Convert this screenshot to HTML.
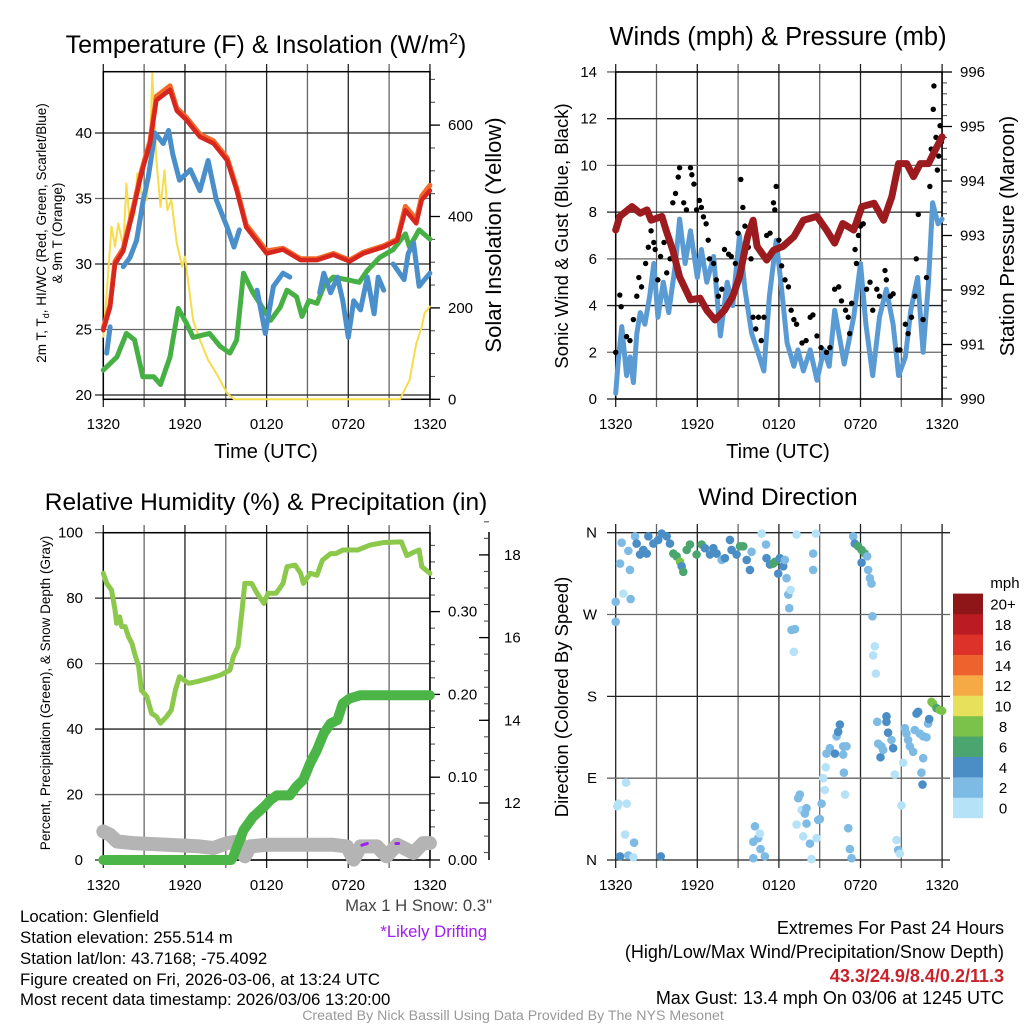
<!DOCTYPE html>
<html><head><meta charset="utf-8"><style>
html,body{margin:0;padding:0;background:#fff;}
svg{display:block;font-family:"Liberation Sans",Arial,sans-serif;}
</style></head><body>
<svg id="fig" xmlns="http://www.w3.org/2000/svg" width="1024" height="1024" viewBox="0 0 1024 1024">
<rect x="0" y="0" width="1024" height="1024" fill="#fff"/>
<g id="layer"></g>
<!-- titles -->
<text x="266" y="53" font-size="25" text-anchor="middle">Temperature (F) &amp; Insolation (W/m<tspan font-size="16" dy="-9">2</tspan><tspan dy="9">)</tspan></text>
<text x="778" y="45" font-size="25.5" text-anchor="middle">Winds (mph) &amp; Pressure (mb)</text>
<text x="266" y="510" font-size="24.5" text-anchor="middle">Relative Humidity (%) &amp; Precipitation (in)</text>
<text x="778" y="505" font-size="24.5" text-anchor="middle">Wind Direction</text>
<!-- axis titles -->
<text x="266" y="458" font-size="20" text-anchor="middle">Time (UTC)</text>
<text x="778" y="458" font-size="20" text-anchor="middle">Time (UTC)</text>
<text transform="translate(46,233) rotate(-90)" font-size="13.5" text-anchor="middle">2m T, T<tspan font-size="9" dy="3">d</tspan><tspan dy="-3">, HI/WC (Red, Green, Scarlet/Blue)</tspan></text>
<text transform="translate(62,233) rotate(-90)" font-size="13.5" text-anchor="middle">&amp; 9m T (Orange)</text>
<text transform="translate(501,235) rotate(-90)" font-size="22" text-anchor="middle">Solar Insolation (Yellow)</text>
<text transform="translate(568,236) rotate(-90)" font-size="18.5" text-anchor="middle">Sonic Wind &amp; Gust (Blue, Black)</text>
<text transform="translate(1014,236) rotate(-90)" font-size="20.5" text-anchor="middle">Station Pressure (Maroon)</text>
<text transform="translate(50,693) rotate(-90)" font-size="13.5" text-anchor="middle">Percent, Precipitation (Green), &amp; Snow Depth (Gray)</text>
<text transform="translate(568,697) rotate(-90)" font-size="18.5" text-anchor="middle">Direction (Colored By Speed)</text>
<!-- notes -->
<text x="492" y="911" font-size="16.7" fill="#444" text-anchor="end">Max 1 H Snow: 0.3"</text>
<text x="487" y="937" font-size="16.7" fill="#a020f0" text-anchor="end">*Likely Drifting</text>
<g font-size="16.8" fill="#000">
<text x="20" y="922">Location: Glenfield</text>
<text x="20" y="943">Station elevation: 255.514 m</text>
<text x="20" y="964">Station lat/lon: 43.7168; -75.4092</text>
<text x="20" y="985">Figure created on Fri, 2026-03-06, at 13:24 UTC</text>
<text x="20" y="1005">Most recent data timestamp: 2026/03/06 13:20:00</text>
</g>
<g font-size="18" text-anchor="end">
<text x="1004" y="934">Extremes For Past 24 Hours</text>
<text x="1004" y="958">(High/Low/Max Wind/Precipitation/Snow Depth)</text>
<text x="1004" y="982" fill="#c8232c" font-weight="bold">43.3/24.9/8.4/0.2/11.3</text>
<text x="1004" y="1004">Max Gust: 13.4 mph On 03/06 at 1245 UTC</text>
</g>
<text x="513" y="1020" font-size="14.2" fill="#999" text-anchor="middle">Created By Nick Bassill Using Data Provided By The NYS Mesonet</text>
<text x="1005" y="588" font-size="15" text-anchor="middle">mph</text>
</svg>
<script>
// ---------- DATA ----------
const timeTickLabels = ["1320","1920","0120","0720","1320"];
// Panel 1
const tempHours = [0,0.5,0.86,1.47,2.2,2.8,3.43,3.9,4.9,5.4,6.1,7.1,8.1,9.1,9.8,10.5,12.0,13.2,14.5,15.7,16.9,18.1,19.1,20.6,21.6,22.2,23.0,23.4,24];
const tempRed = [24.95,26.7,30.0,31.0,34.1,36.9,39.2,42.5,43.3,41.7,41.0,39.7,39.2,37.9,35.6,32.8,30.8,31.1,30.3,30.3,30.7,30.2,30.8,31.3,31.8,34.1,33.1,34.9,35.6];
const temp9m = [25.1,26.9,30.2,31.2,34.3,37.1,39.4,42.8,43.6,41.9,41.2,39.9,39.4,38.1,35.8,33.0,31.0,31.2,30.4,30.4,30.8,30.3,30.9,31.4,31.9,34.4,33.4,35.2,36.0];
const chillHours = [0.25,0.5,null,1.47,1.96,2.45,2.94,3.3,3.8,4.4,4.8,5.1,5.6,6.4,7.1,7.7,8.3,9.1,9.6,10.0,null,11.3,11.9,12.5,13.2,13.7,null,15.9,16.2,16.7,17.2,17.6,18.0,18.4,18.9,19.4,19.9,20.2,20.6,null,21.3,22.1,22.4,22.8,23.2,23.6,24];
const chillVals = [23.2,25.2,null,29.8,30.5,31.8,34.9,36.6,40.0,39.2,40.2,38.4,36.4,37.2,35.6,37.9,34.9,32.8,31.3,32.6,null,28.0,24.7,28.3,29.3,29.0,null,27.8,29.3,27.8,29.0,27.2,24.4,27.2,26.5,29.0,26.2,29.0,28.0,null,30.0,28.8,30.8,31.6,28.3,28.8,29.3];
const dewHours = [0,1.0,1.7,2.3,2.9,3.7,4.2,4.9,5.5,6.1,6.6,7.8,8.6,9.3,9.8,10.3,11.0,11.8,12.3,13.0,13.5,14.2,14.6,15.1,15.7,16.2,16.9,17.9,18.8,19.4,20.3,21.3,22.2,22.5,23.2,24];
const dewVals = [21.9,22.9,24.7,24.2,21.4,21.4,20.8,22.9,26.6,25.5,24.4,24.7,23.7,23.2,24.2,29.3,27.8,26.5,25.7,26.7,28.0,27.5,26.0,27.2,27.0,28.3,29.0,28.8,28.6,29.5,30.5,31.1,32.3,31.3,32.6,31.9];
const solarHours = [0,0.25,0.6,0.86,1.1,1.47,1.7,1.96,2.3,2.5,2.8,3.2,3.4,3.6,3.9,4.2,4.5,4.7,5.0,5.4,5.8,6.0,6.6,7.1,7.7,8.3,9.1,9.6,21.8,22.5,23.0,23.4,23.6,24];
const solarVals = [137,232,378,334,385,334,472,378,407,494,450,436,523,713,523,421,501,414,436,341,290,312,173,130,86,57,13,0,0,42,122,159,188,203];
// Panel 2
const presHours = [0,0.3,1.2,1.8,2.3,2.6,3.4,3.7,4.2,4.7,5.5,6.2,6.7,7.3,8.0,8.6,9.1,9.7,10.1,10.4,11.1,11.6,12.3,13.1,13.8,14.8,15.5,16.1,16.7,17.5,18.1,19.0,19.7,20.3,20.8,21.4,21.9,22.4,23.0,23.5,24];
const presVals = [993.10,993.35,993.53,993.41,993.47,993.28,993.35,993.10,992.73,992.24,991.82,991.85,991.63,991.45,991.63,991.88,992.24,992.98,993.28,992.80,992.55,992.73,992.80,992.98,993.28,993.35,993.10,992.86,993.22,993.10,993.53,993.59,993.28,993.71,994.32,994.32,994.08,994.32,994.32,994.57,994.81];
const windHours = [0,0.2,0.45,0.8,1.05,1.3,1.55,1.8,2.15,2.5,2.8,3.1,3.5,3.9,4.4,4.7,5.1,5.5,6.0,6.3,6.7,7.2,7.7,8.2,8.6,9.1,9.5,10.0,10.4,10.9,11.3,11.8,12.2,12.6,13.1,13.4,13.8,14.3,14.8,15.3,15.7,16.1,16.5,16.8,17.5,18.0,18.4,18.9,19.4,19.9,20.4,20.8,21.3,21.7,22.2,22.6,23.0,23.3,23.7,24];
const windVals = [0.25,1.7,3.1,1.0,1.8,0.7,2.8,3.7,3.2,4.4,5.8,3.5,5.0,3.7,5.8,7.7,5.8,7.2,5.2,6.4,5.0,6.1,2.7,5.0,4.0,7.0,4.7,2.8,2.1,1.2,4.4,6.8,4.7,2.4,1.4,2.1,1.2,2.1,0.8,2.1,1.4,3.8,2.5,1.5,3.5,5.8,3.2,1.0,3.5,4.7,3.2,1.0,1.8,3.8,5.2,2.0,5.0,8.4,7.5,7.7];
const gustHours = [0,0.3,0.4,0.8,1.05,1.3,1.55,1.7,1.9,2.2,2.4,2.6,2.8,2.9,3.1,3.3,3.55,3.75,4.0,4.2,4.4,4.6,4.7,5.0,5.2,5.5,5.6,5.75,5.95,6.15,6.3,6.45,6.65,6.8,6.9,7.2,7.4,7.55,7.8,8.0,8.3,8.5,8.8,9.0,9.2,9.35,9.5,9.75,9.95,10.1,10.3,10.5,10.7,10.9,11.1,11.35,11.6,11.7,11.8,12.0,12.2,12.45,12.7,12.9,13.1,13.3,13.7,14.0,14.3,14.5,14.8,15.1,15.5,15.75,16.1,16.4,16.6,16.9,17.1,17.2,17.35,17.6,17.7,17.85,18.0,18.2,18.45,18.7,18.9,19.2,19.4,19.8,19.9,20.2,20.4,20.7,20.9,21.3,21.5,21.75,22.0,22.1,22.25,22.6,22.85,23.1,23.2,23.35,23.4,23.55,23.65,23.75,23.85,23.95];
const gustVals = [2.0,4.45,3.95,2.67,2.5,3.4,4.4,5.2,4.8,5.8,6.5,7.2,6.7,6.4,5.1,6.1,6.7,5.4,6.0,8.4,8.8,9.5,9.9,8.4,8.1,9.9,9.6,9.2,8.1,8.5,8.2,7.8,7.5,6.8,6.0,5.8,5.1,4.4,4.7,6.4,6.2,6.1,5.8,7.1,9.4,8.2,7.4,6.5,6.0,3.5,3.0,3.5,2.5,3.5,7.0,7.1,8.4,8.1,9.1,6.8,5.7,5.1,4.8,3.8,3.4,3.2,2.4,2.5,3.5,3.6,2.7,2.2,2.0,2.2,4.7,4.8,4.2,3.8,3.5,2.8,4.1,6.4,5.8,7.0,7.4,7.5,4.7,5.0,3.8,4.7,4.4,5.5,5.1,4.4,4.5,2.1,2.1,3.2,2.8,3.5,4.4,6.0,7.9,3.4,5.2,9.1,10.7,12.4,13.4,11.2,9.8,10.4,11.7,11.0];
// Panel 3
const rhHours = [0,0.25,0.6,0.86,0.98,1.2,1.35,1.6,1.85,2.1,2.3,2.6,2.8,3.2,3.55,3.9,4.2,4.65,5.0,5.3,5.6,6.25,6.9,7.8,8.6,9.3,9.55,9.9,10.2,10.4,10.9,11.3,11.8,12.1,12.7,13.2,13.5,14.1,14.5,14.7,15.2,15.7,16.1,16.7,17.1,17.6,18.7,19.6,20.6,21.9,22.3,22.8,23.2,23.4,24];
const rhVals = [87.6,84.5,82.5,76.4,72.3,74.3,71.3,71.3,68.2,66.2,63.1,59.1,51.9,49.9,44.8,43.8,41.8,43.8,45.8,51.9,56.0,54.0,54.5,55.5,56.5,58.0,62.1,65.2,76.4,84.5,84.5,81.5,78.4,81.5,81.5,84.5,89.6,90.1,87.6,84.5,87.6,87.0,91.6,93.6,93.6,94.7,94.7,96.2,97.0,97.2,93.0,94.0,94.7,89.6,87.6];
const precipHours = [0,9.4,9.55,10.3,11.0,11.8,12.25,12.75,13.7,14.2,14.7,15.2,15.7,16.2,16.7,17.2,17.6,18.1,18.9,24];
const precipVals = [0,0,0.004,0.036,0.052,0.064,0.072,0.078,0.078,0.089,0.097,0.117,0.133,0.153,0.165,0.169,0.189,0.195,0.199,0.199];
const snowHours = [0,0.5,1.0,2.2,7.1,8.1,9.1,10.0,10.4,10.8,12,16.9,17.9,18.4,18.9,20.1,20.8,21.6,22.8,23.5,24];
const snowVals = [11.31,11.23,11.07,11.03,10.95,10.91,11.03,11.07,10.71,10.95,10.99,10.99,10.95,10.63,10.95,10.95,10.71,10.99,10.79,11.03,11.03];
const driftHours = [[19.0,19.4],[21.5,21.7]];
const driftVals = [[10.98,11.02],[11.02,11.02]];
// Panel 4
const dirHours = [0.44,0.32,1.05,0.56,1.1,0,0,0.93,1.42,1.54,1.79,2.03,2.28,2.4,2.77,3.13,3.38,3.75,3.99,4.24,4.48,4.73,4.85,4.97,5.22,5.46,5.95,6.32,6.56,6.93,7.18,7.42,7.79,8.03,8.4,8.52,8.89,9.14,9.38,9.63,9.87,9.99,10.73,11.05,11.09,11.34,11.58,11.71,11.95,12.07,12.32,12.44,12.56,12.69,12.86,12.76,12.93,13.18,13.1,13.3,14.52,14.52,14.72,17.46,17.58,17.83,18.08,18.32,18.08,18.49,18.56,18.69,18.81,18.88,19.05,18.93,19.13,
0.2,0.12,0.76,0.81,0.69,1.35,0.32,0.93,1.3,3.31,10.24,10.48,10.12,10.6,10.65,10.97,10.12,13.42,13.54,13.67,14.03,13.91,13.3,13.79,14.28,14.03,14.4,14.77,14.89,15.01,15.14,15.26,15.38,15.45,15.5,15.75,16.12,16.24,16.36,16.48,16.73,16.97,16.73,16.78,16.87,17.1,17.22,17.34,
19.23,19.3,19.54,19.47,19.67,19.91,19.91,20.03,20.28,20.4,20.52,21.01,20.65,20.77,20.89,21.14,21.26,21.38,21.5,21.63,21.87,21.99,22.12,22.24,22.36,22.61,22.85,22.97,23.05,22.61,22.48,22.56,23.22,23.34,23.59,23.83,24];
const dirVals = [349,326,319,293,287,284,262,340,356,348,336,341,337,356,348,352,359,356,348,337,334,328,323,317,341,347,336,347,343,336,343,337,330,332,352,341,336,345,345,330,319,339,359,347,332,325,326,328,315,332,323,330,310,292,297,277,253,254,229,358,337,319,359,356,348,345,341,337,327,334,319,310,304,268,235,225,205,
62,59,85,62,28,19,4,5,3,4,37,24,20,29,12,4,2,68,72,55,57,51,39,26,18,40,1,24,44,45,62,90,77,102,117,123,117,136,141,149,125,125,116,96,72,35,12,2,
152,128,125,113,121,158,152,140,132,123,94,60,22,11,7,107,145,139,132,125,119,143,161,163,139,136,135,150,155,112,96,83,174,172,167,165,164];
const dirSpeeds = [2.5,2.5,2.5,0.8,2.5,2.5,2.5,2.5,2.5,4.3,4.3,4.3,4.3,4.3,4.3,4.3,4.3,4.3,4.3,6.2,6.2,8.1,4.3,6.2,6.2,6.2,6.2,6.2,4.3,4.3,4.3,4.3,2.5,4.3,4.3,4.3,4.3,6.2,6.2,4.3,4.3,2.5,0.8,2.5,4.3,4.3,6.2,6.2,4.3,4.3,4.3,2.5,2.5,2.5,0.8,2.5,2.5,2.5,0.8,0.8,2.5,2.5,0.8,2.5,4.3,6.2,6.2,6.2,4.3,2.5,2.5,2.5,2.5,2.5,0.8,0.8,0.8,
0.8,0.8,0.8,0.8,0.8,2.5,4.3,2.5,0.8,4.3,2.5,2.5,2.5,0.8,2.5,2.5,2.5,2.5,2.5,0.8,2.5,2.5,0.8,0.8,2.5,2.5,0.8,0.8,2.5,2.5,2.5,0.8,0.8,0.8,2.5,2.5,4.3,2.5,4.3,4.3,2.5,2.5,2.5,2.5,0.8,2.5,2.5,2.5,
2.5,2.5,2.5,4.3,2.5,4.3,4.3,4.3,2.5,4.3,0.8,0.8,0.8,2.5,0.8,0.8,2.5,2.5,2.5,2.5,2.5,2.5,4.3,4.3,2.5,2.5,2.5,2.5,4.3,2.5,2.5,4.3,8.1,8.1,6.2,8.1,8.1];
const cbLabels = ["0","2","4","6","8","10","12","14","16","18","20+"];
const cbColors = ["#b5e2f7","#7dbae4","#4a8ec5","#4aa56e","#7ac24a","#e6e05a","#f6aa46","#ee622e","#dc3229","#bb1c24","#8e1619"];

// ---------- HELPERS ----------
const NS="http://www.w3.org/2000/svg";
const layer=document.getElementById('layer');
function mk(tag,attrs,parent){const e=document.createElementNS(NS,tag);for(const k in attrs)e.setAttribute(k,attrs[k]);(parent||layer).appendChild(e);return e;}
function pathFrom(xs,ys,fx,fy){let d="",pen=false;for(let i=0;i<xs.length;i++){if(xs[i]===null||ys[i]===null){pen=false;continue;}d+=(pen?"L":"M")+fx(xs[i]).toFixed(1)+","+fy(ys[i]).toFixed(1);pen=true;}return d;}

// scales
const xL=h=>103.3+h*13.61, xR=h=>615.7+h*13.6;
const yT=t=>395-(t-20)*13.1, yS=w=>399.3-w*0.457;
const yW=m=>399-m*23.36, yP=p=>399-(p-990)*54.5;
const yRH=r=>860-r*3.273, yPr=i=>860-i*828, ySn=s=>803-(s-12)*41.35;
const yD=d=>860-d*(327.3/360);

function timeGrid(xf,top,bot,labelY,name){
  for(let h=0;h<=24;h+=3){
    const ln=mk('line',{x1:xf(h),x2:xf(h),y1:top-8,y2:bot+8,stroke:(h%6==0)?'#222':'#666','stroke-width':1.3});
    
    
  }
  for(let i=0;i<timeTickLabels.length;i++){
    const t=mk('text',{x:xf(i*6),y:labelY,'font-size':15,'text-anchor':'middle'});
    t.textContent=timeTickLabels[i];
    
    
  }
}
function hGrid(vals,yf,x1,x2,labels,lx,name,anchor){
  for(let i=0;i<vals.length;i++){
    const ln=mk('line',{x1:x1,x2:x2,y1:yf(vals[i]),y2:yf(vals[i]),stroke:(i%2==0)?'#222':'#666','stroke-width':1.3});
    
    
    if(labels){const t=mk('text',{x:lx,y:yf(vals[i])+5,'font-size':15,'text-anchor':anchor||'end'});t.textContent=labels[i];
      
      }
  }
}
function rightAxis(x,yf,vals,labels,minorStep,lo,hi,name){
  for(let v=lo;v<=hi+1e-9;v+=minorStep){
    const tk=mk('line',{x1:x,x2:x+5,y1:yf(v),y2:yf(v),stroke:'#444','stroke-width':1});
    
    
  }
  for(let i=0;i<vals.length;i++){
    const tk=mk('line',{x1:x,x2:x+10,y1:yf(vals[i]),y2:yf(vals[i]),stroke:'#000','stroke-width':1.3});
    
    
    const t=mk('text',{x:x+18,y:yf(vals[i])+5,'font-size':15});t.textContent=labels[i];
    
    
  }
}
function box(x1,y1,x2,y2,name){const r=mk('rect',{x:x1,y:y1,width:x2-x1,height:y2-y1,fill:'none',stroke:'#000','stroke-width':1.5});
  
  }
function line(xs,ys,xf,yf,color,w,name){const p=mk('path',{d:pathFrom(xs,ys,xf,yf),fill:'none',stroke:color,'stroke-width':w,'stroke-linejoin':'round','stroke-linecap':'round'});
  
  }

// ---------- PANEL 1 ----------
timeGrid(xL,72,399,429,'temp');
hGrid([20,25,30,35,40],yT,95,430,["20","25","30","35","40"],92,'temp');
rightAxis(430,yS,[0,200,400,600],["0","200","400","600"],50,0,700,'solar');
box(103.3,71.7,430,399.3,'temp-plot-frame');
line(solarHours,solarVals,xL,yS,'#f7dc4a',2,'solar-line');
line(dewHours,dewVals,xL,yT,'#46b044',5,'dewpoint-line');
line(chillHours,chillVals,xL,yT,'#4a8fc9',5,'windchill-line');
line(tempHours,temp9m,xL,yT,'#f26a2b',5,'temp-9m-line');
line(tempHours,tempRed,xL,yT,'#d7261e',4.5,'temp-2m-line');

// ---------- PANEL 2 ----------
timeGrid(xR,72,399,429,'wind');
hGrid([0,2,4,6,8,10,12,14],yW,607,942,["0","2","4","6","8","10","12","14"],597,'wind');
rightAxis(942,yP,[990,991,992,993,994,995,996],["990","991","992","993","994","995","996"],0.2,990,996,'pressure');
box(615.7,72,942,399,'wind-plot-frame');
line(windHours,windVals,xR,yW,'#5b9bd3',5,'wind-speed-line');
for(let i=0;i<gustHours.length;i++){
  const c=mk('circle',{cx:xR(gustHours[i]),cy:yW(gustVals[i]),r:2.7,fill:'#000'});
  
  
}
line(presHours,presVals,xR,yP,'#9b1b1e',7,'pressure-line');

// ---------- PANEL 3 ----------
timeGrid(xL,533,860,890,'rh');
hGrid([0,20,40,60,80,100],yRH,95,430,["0","20","40","60","80","100"],83,'rh');
rightAxis(430,yPr,[0,0.1,0.2,0.3],["0.00","0.10","0.20","0.30"],0.02,0,0.38,'precip');
box(103.3,532.7,430,860,'rh-plot-frame');
{const ax=mk('line',{x1:489,x2:489,y1:532,y2:860,stroke:'#000','stroke-width':1.5});

}
for(let s=10.8;s<=18.9;s+=0.4){
  const tk=mk('line',{x1:484,x2:489,y1:ySn(s),y2:ySn(s),stroke:'#444','stroke-width':1});
  
  
}
for(const s of [12,14,16,18]){
  const tk=mk('line',{x1:479,x2:489,y1:ySn(s),y2:ySn(s),stroke:'#000','stroke-width':1.3});
  
  
  const t=mk('text',{x:504,y:ySn(s)+5,'font-size':15});t.textContent=String(s);
  
  
}
line(snowHours,snowVals,xL,ySn,'#b4b4b4',14,'snow-depth-line');
for(let k=0;k<driftHours.length;k++){line(driftHours[k],driftVals[k],xL,ySn,'#a020f0',3,'drifting-mark');}
line(precipHours,precipVals,xL,yPr,'#4bb547',10,'precip-line');
line(rhHours,rhVals,xL,yRH,'#8cc84b',5,'rh-line');

// ---------- PANEL 4 ----------
timeGrid(xR,532,860,890,'dir');
hGrid([0,90,180,270,360],yD,607,950,null,0,'dir');
const dirLabs=["N","E","S","W","N"];
for(let i=0;i<5;i++){const t=mk('text',{x:597,y:yD(i*90)+5,'font-size':15,'text-anchor':'end'});t.textContent=dirLabs[i];
  
  }
function spdColor(s){return cbColors[Math.min(10,Math.floor(s/2))];}
for(let i=0;i<dirHours.length;i++){
  const c=mk('circle',{cx:xR(dirHours[i]),cy:yD(dirVals[i]),r:4.3,fill:spdColor(dirSpeeds[i])});
  
  
}
for(let i=0;i<cbColors.length;i++){
  const y=818-(i+1)*20.4;
  const r=mk('rect',{x:953,y:y,width:30,height:20.6,fill:cbColors[i]});
  
  
  const t=mk('text',{x:1003,y:y+16,'font-size':15,'text-anchor':'middle'});t.textContent=cbLabels[i];
  
  
}
</script>
</body></html>
